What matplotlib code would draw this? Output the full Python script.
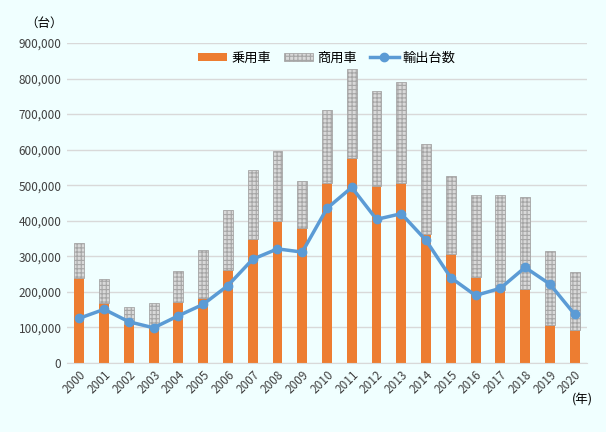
import matplotlib.pyplot as plt
import numpy as np

plt.rcParams['font.family'] = ['Noto Sans CJK JP', 'DejaVu Sans']

# 輸出台数 2000-2020
years = [str(y) for y in range(2000, 2021)]
passenger = [238000, 168000, 111000, 103000, 171000, 184000, 262000, 349000, 399000, 380000,
             506000, 577000, 498000, 506000, 363000, 308000, 241000, 205000, 207000, 106000, 93000]
total = [337000, 236000, 157000, 168000, 259000, 318000, 429000, 542000, 596000, 512000,
         713000, 827000, 764000, 789000, 615000, 526000, 472000, 472000, 467000, 315000, 255000]
commercial = [t - p for t, p in zip(total, passenger)]
exports = [126000, 151000, 116000, 99000, 133000, 165000, 218000, 292000, 321000, 312000,
           435000, 494000, 404000, 420000, 345000, 240000, 190000, 210000, 269000, 222000, 137000]

bg = '#F0FFFF'
fig = plt.figure(figsize=(6.06, 4.32), dpi=100, facecolor=bg)
ax = fig.add_axes([0.1106, 0.1597, 0.858, 0.7407], facecolor=bg)

x = np.arange(len(years))
w = 0.4
plt.rcParams['hatch.color'] = '#A6A6A6'
plt.rcParams['hatch.linewidth'] = 0.8
b1 = ax.bar(x, passenger, w, color='#ED7D31', label='乗用車', zorder=2)
b2 = ax.bar(x, commercial, w, bottom=passenger, color='#D9D9D9', edgecolor='#A6A6A6',
            linewidth=0.6, hatch='++++', label='商用車', zorder=2)
l1, = ax.plot(x, exports, color='#5B9BD5', lw=2.5, marker='o', ms=6, label='輸出台数', zorder=3)

ax.set_xlim(-0.5, len(years) - 0.5)
ax.set_ylim(0, 900000)
ax.set_yticks(range(0, 900001, 100000))
ax.set_yticklabels([f'{v:,}' for v in range(0, 900001, 100000)], fontsize=8.5, color='#404040')
ax.set_xticks(x)
ax.set_xticklabels(years, rotation=45, ha='right', rotation_mode='anchor', fontsize=8.5, color='#404040')
ax.tick_params(length=0, pad=4)
ax.grid(axis='y', color='#D9D9D9', lw=1, zorder=0)
for s in ['top', 'right', 'left']:
    ax.spines[s].set_visible(False)
ax.spines['bottom'].set_color('#D9D9D9')

ax.legend([b1, b2, l1], ['乗用車', '商用車', '輸出台数'], loc='upper center',
          bbox_to_anchor=(0.5, 1.01), ncol=3, frameon=False,
          fontsize=9.5, handlelength=2.2, handleheight=0.5, columnspacing=1.0, handletextpad=0.3)

fig.text(25 / 606, 1 - 23 / 432, '（台）', fontsize=9, va='center', ha='left')
fig.text(572 / 606, 1 - 400 / 432, '(年)', fontsize=9, va='center', ha='left')

fig.savefig('out.png', dpi=100, facecolor=bg)
